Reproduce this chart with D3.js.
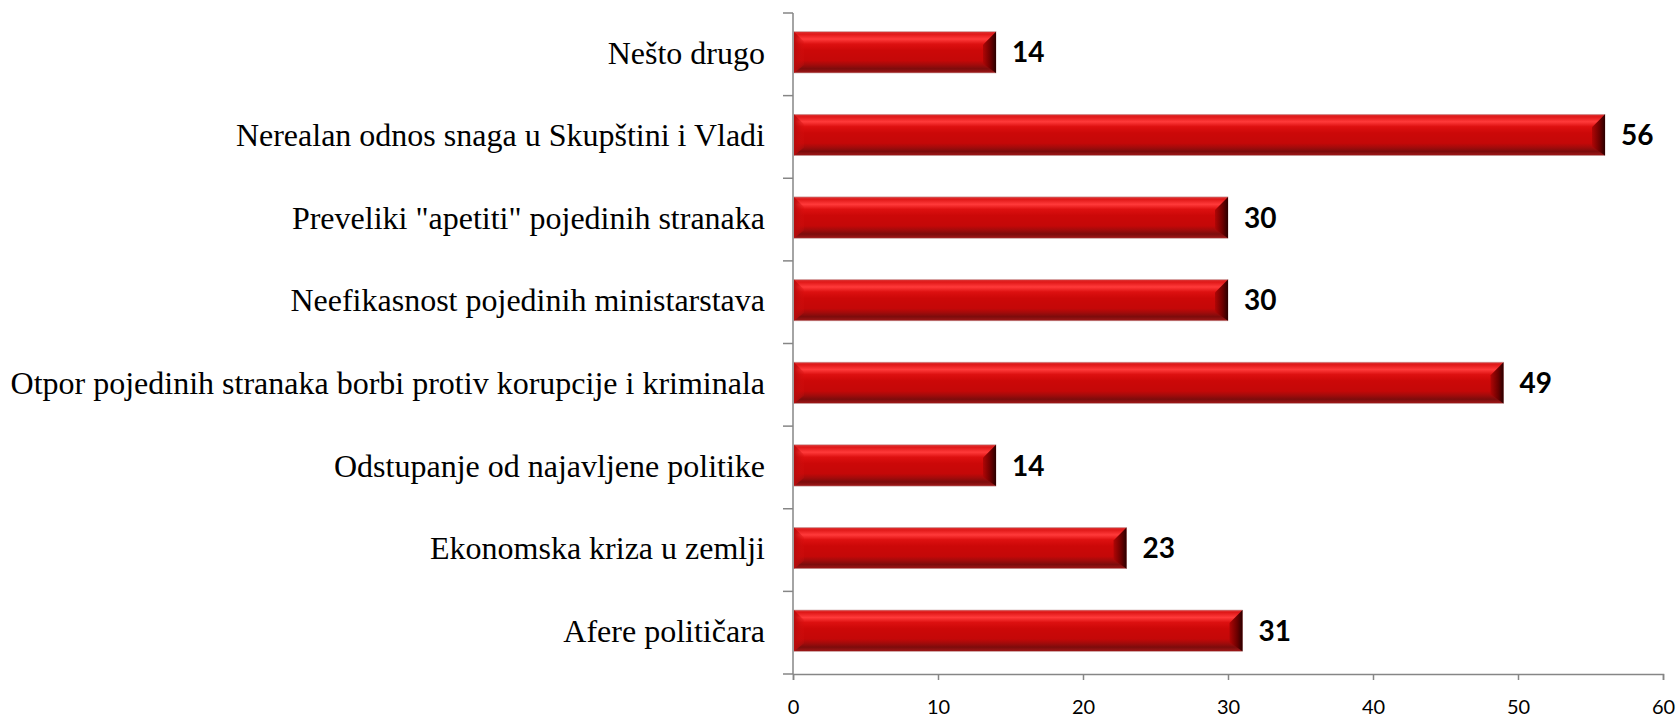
<!DOCTYPE html>
<html>
<head>
<meta charset="utf-8">
<script src="https://cdn.jsdelivr.net/npm/d3@7"></script>
<style>
  body { margin: 0; background: #fff; }
  svg { display: block; }
</style>
</head>
<body>
<div id="chart"></div>
<script>
// categories top to bottom, as in the picture
var categories = [
   "Nešto drugo",
   "Nerealan odnos snaga u Skupštini i Vladi",
   "Preveliki \"apetiti\" pojedinih stranaka",
   "Neefikasnost pojedinih ministarstava",
   "Otpor pojedinih stranaka borbi protiv korupcije i kriminala",
   "Odstupanje od najavljene politike",
   "Ekonomska kriza u zemlji",
   "Afere političara"
];
var values = [14, 56, 30, 30, 49, 14, 23, 31];
var xTicks = [0, 10, 20, 30, 40, 50, 60];

var W = 1678, H = 722;
var margin = { top: 13, right: 15, bottom: 48, left: 793 };
var width = W - margin.left - margin.right,
    height = H - margin.top - margin.bottom;

var svg = d3.select("#chart").append("svg")
   .attr("width", W)
   .attr("height", H);

// gradients for the bevelled bars
var defs = svg.append("defs");
var vg = defs.append("linearGradient").attr("id", "barFill")
   .attr("x1", 0).attr("y1", 0).attr("x2", 0).attr("y2", 1);
[[0, "#d83a3a"], [0.06, "#e01818"], [0.18, "#ff3a3a"], [0.3, "#dd1010"],
 [0.45, "#cc0808"], [0.7, "#c40808"], [0.8, "#a30b0b"], [0.9, "#7c0c0c"], [1, "#a01818"]]
   .forEach(function (s) { vg.append("stop").attr("offset", s[0]).attr("stop-color", s[1]); });

var rg = defs.append("linearGradient").attr("id", "rightBevel")
   .attr("x1", 0).attr("y1", 0).attr("x2", 1).attr("y2", 0);
rg.append("stop").attr("offset", 0).attr("stop-color", "#b00606");
rg.append("stop").attr("offset", 0.6).attr("stop-color", "#6a0000");
rg.append("stop").attr("offset", 1).attr("stop-color", "#2a0000");

var lg = defs.append("linearGradient").attr("id", "leftBevel")
   .attr("x1", 0).attr("y1", 0).attr("x2", 1).attr("y2", 0);
lg.append("stop").attr("offset", 0).attr("stop-color", "#b80a0a");
lg.append("stop").attr("offset", 1).attr("stop-color", "#d40f0f").attr("stop-opacity", 0.2);

var g = svg.append("g")
   .attr("transform", "translate(" + margin.left + "," + margin.top + ")");

var xScale = d3.scaleLinear().domain([0, 60]).range([0, width]);
var yScale = d3.scaleBand().domain(categories).range([0, height]).paddingInner(0.5).paddingOuter(0.25);

// bars
var bars = g.selectAll(".bar")
   .data(values)
   .enter().append("g")
   .attr("class", "bar");

bars.append("rect")
   .attr("x", 1)
   .attr("y", function (d, i) { return yScale(categories[i]) - 2; })
   .attr("width", function (d) { return xScale(d) - 1; })
   .attr("height", yScale.bandwidth())
   .attr("fill", "url(#barFill)")
   .attr("stroke", "#c9a3a3")
   .attr("stroke-width", 0.6);

var bev = 13;
bars.append("polygon")
   .attr("points", function (d, i) {
      var y0 = yScale(categories[i]) - 2, y1 = y0 + yScale.bandwidth(), x1 = xScale(d);
      return [[x1, y0], [x1 - bev, y0 + bev], [x1 - bev, y1 - bev * 0.7], [x1, y1]].join(" ");
   })
   .attr("fill", "url(#rightBevel)");

bars.append("polygon")
   .attr("points", function (d, i) {
      var y0 = yScale(categories[i]) - 2, y1 = y0 + yScale.bandwidth();
      return [[1, y0], [1 + 10, y0 + 10], [1 + 10, y1 - 8], [1, y1]].join(" ");
   })
   .attr("fill", "url(#leftBevel)");

// value labels
g.selectAll(".val")
   .data(values)
   .enter().append("text")
   .attr("class", "val")
   .attr("x", function (d) { return xScale(d) + 16; })
   .attr("y", function (d, i) { return yScale(categories[i]) - 2 + yScale.bandwidth() / 2; })
   .attr("dy", "0.36em")
   .attr("font-family", "Lato, sans-serif")
   .attr("font-weight", "bold")
   .attr("font-size", 28)
   .attr("fill", "#000")
   .text(function (d) { return d; });

// X axis
var xAxis = g.append("g")
   .attr("class", "axis")
   .attr("transform", "translate(0," + height + ")")
   .call(d3.axisBottom(xScale).tickValues(xTicks).tickSize(6).tickSizeOuter(6));
xAxis.selectAll("text")
   .attr("fill", "#000")
   .attr("font-family", "Lato, sans-serif")
   .attr("font-size", 20)
   .attr("y", 26);

// Y axis, ticks at band boundaries
var yAxis = g.append("g").attr("class", "axis");
yAxis.append("line")
   .attr("x1", 0).attr("x2", 0)
   .attr("y1", 0).attr("y2", height);
var step = yScale.step();
yAxis.selectAll(".ytick")
   .data(d3.range(categories.length + 1))
   .enter().append("line")
   .attr("class", "ytick")
   .attr("x1", -10).attr("x2", 0)
   .attr("y1", function (i) { return i * step; })
   .attr("y2", function (i) { return i * step; });

yAxis.selectAll(".ylab")
   .data(categories)
   .enter().append("text")
   .attr("class", "ylab")
   .attr("x", -28)
   .attr("y", function (d) { return yScale(d) - 2 + yScale.bandwidth() / 2; })
   .attr("dy", "0.35em")
   .attr("text-anchor", "end")
   .attr("font-family", "'Liberation Serif', 'Times New Roman', serif")
   .attr("font-size", 32)
   .attr("fill", "#000")
   .text(function (d) { return d; });

svg.selectAll(".axis path, .axis line")
   .attr("stroke", "#868686")
   .attr("stroke-width", 1.5);
</script>
</body>
</html>
